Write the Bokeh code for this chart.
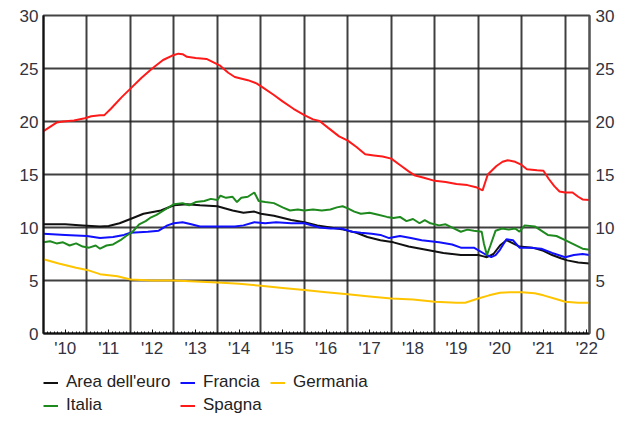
from bokeh.plotting import figure
from bokeh.layouts import column
from bokeh.models import Range1d, LinearAxis, FixedTicker, Legend, LegendItem
from bokeh.embed import file_html
from bokeh.resources import INLINE

# ---- data (decimal years, unemployment rate %) ----
ea_x = [2010.0, 2010.5, 2010.9, 2011.3, 2011.5, 2011.75, 2012.0, 2012.3, 2012.7, 2013.0, 2013.3, 2013.6,
        2014.0, 2014.35, 2014.6, 2014.85, 2015.0, 2015.3, 2015.7, 2016.0, 2016.3, 2016.6, 2016.9, 2017.2,
        2017.45, 2017.75, 2018.05, 2018.4, 2018.8, 2019.2, 2019.6, 2020.0, 2020.1, 2020.2, 2020.35, 2020.5,
        2020.65, 2020.8, 2020.95, 2021.25, 2021.5, 2021.7, 2021.9, 2022.05, 2022.3, 2022.56]
ea_y = [10.3, 10.3, 10.2, 10.1, 10.15, 10.4, 10.8, 11.3, 11.6, 12.1, 12.2, 12.1,
        12.0, 11.6, 11.4, 11.5, 11.3, 11.1, 10.7, 10.5, 10.2, 10.0, 9.8, 9.5,
        9.1, 8.8, 8.6, 8.2, 7.9, 7.6, 7.4, 7.4, 7.3, 7.2, 7.5, 8.3,
        8.8, 8.5, 8.2, 8.1, 7.8, 7.4, 7.1, 6.9, 6.7, 6.6]

fr_x = [2010.0, 2010.5, 2011.0, 2011.3, 2011.6, 2011.85, 2012.0, 2012.4, 2012.65, 2012.85, 2013.0, 2013.2,
        2013.4, 2013.6, 2014.0, 2014.4, 2014.6, 2014.85, 2015.1, 2015.35, 2015.7, 2016.0, 2016.35, 2016.6,
        2016.85, 2017.1, 2017.3, 2017.55, 2017.75, 2017.95, 2018.2, 2018.45, 2018.7, 2019.1, 2019.4, 2019.6,
        2019.9, 2020.15, 2020.3, 2020.4, 2020.5, 2020.65, 2020.8, 2020.95, 2021.2, 2021.45, 2021.7, 2022.0,
        2022.2, 2022.4, 2022.56]
fr_y = [9.4, 9.3, 9.2, 9.0, 9.1, 9.3, 9.5, 9.6, 9.7, 10.2, 10.4, 10.5,
        10.3, 10.1, 10.1, 10.1, 10.2, 10.5, 10.4, 10.5, 10.4, 10.4, 10.0, 9.9,
        9.9, 9.6, 9.5, 9.4, 9.3, 9.0, 9.2, 9.0, 8.8, 8.6, 8.4, 8.1,
        8.1, 7.5, 7.2, 7.4, 7.9, 8.9, 8.8, 8.1, 8.1, 8.0, 7.6, 7.2,
        7.4, 7.5, 7.4]

de_x = [2010.0, 2010.35, 2010.75, 2011.0, 2011.3, 2011.7, 2012.0, 2012.5, 2013.0, 2013.5, 2014.0, 2014.5,
        2015.0, 2015.5, 2016.0, 2016.5, 2017.0, 2017.5, 2018.0, 2018.5, 2019.0, 2019.5, 2019.7, 2020.0,
        2020.25, 2020.5, 2020.75, 2021.0, 2021.3, 2021.5, 2021.75, 2022.0, 2022.3, 2022.56]
de_y = [7.0, 6.6, 6.2, 6.0, 5.6, 5.4, 5.1, 5.0, 5.0, 4.9, 4.8, 4.7,
        4.5, 4.3, 4.1, 3.9, 3.7, 3.5, 3.3, 3.2, 3.0, 2.9, 2.9, 3.3,
        3.6, 3.85, 3.9, 3.9, 3.8, 3.6, 3.3, 3.0, 2.9, 2.9]

it_x = [2010.0, 2010.15, 2010.3, 2010.45, 2010.6, 2010.75, 2010.9, 2011.05, 2011.2, 2011.3, 2011.45, 2011.6,
        2011.77, 2011.9, 2012.05, 2012.2, 2012.35, 2012.45, 2012.6, 2012.8, 2013.0, 2013.2, 2013.35, 2013.5,
        2013.7, 2013.85, 2014.0, 2014.07, 2014.2, 2014.35, 2014.45, 2014.55, 2014.7, 2014.85, 2014.95, 2015.1,
        2015.3, 2015.5, 2015.67, 2015.85, 2016.0, 2016.2, 2016.4, 2016.6, 2016.75, 2016.88, 2017.0, 2017.15,
        2017.3, 2017.5, 2017.7, 2017.9, 2018.05, 2018.2, 2018.35, 2018.5, 2018.65, 2018.77, 2018.9, 2019.1,
        2019.25, 2019.45, 2019.6, 2019.75, 2019.9, 2020.08, 2020.13, 2020.2, 2020.28, 2020.4, 2020.55, 2020.7,
        2020.85, 2020.95, 2021.07, 2021.3, 2021.45, 2021.6, 2021.8, 2022.0, 2022.2, 2022.4, 2022.56]
it_y = [8.6, 8.7, 8.5, 8.6, 8.3, 8.5, 8.2, 8.1, 8.3, 8.0, 8.3, 8.4,
        8.8, 9.2, 9.6, 10.3, 10.6, 10.9, 11.2, 11.7, 12.2, 12.3, 12.1, 12.4,
        12.5, 12.7, 12.6, 13.0, 12.8, 12.9, 12.4, 12.8, 12.9, 13.3, 12.5, 12.4,
        12.3, 11.9, 11.6, 11.7, 11.6, 11.7, 11.6, 11.7, 11.9, 12.0, 11.8, 11.5,
        11.3, 11.4, 11.2, 11.0, 10.9, 11.0, 10.6, 10.8, 10.4, 10.7, 10.4, 10.2,
        10.3, 9.9, 9.6, 9.8, 9.7, 9.6, 8.5, 7.4, 8.3, 9.7, 9.9, 9.8,
        9.9, 9.6, 10.2, 10.1, 9.7, 9.3, 9.2, 8.8, 8.4, 8.0, 7.9]

es_x = [2010.0, 2010.15, 2010.3, 2010.45, 2010.7, 2010.95, 2011.1, 2011.3, 2011.4, 2011.55, 2011.8, 2012.0,
        2012.25, 2012.5, 2012.75, 2012.95, 2013.1, 2013.2, 2013.3, 2013.5, 2013.75, 2013.9, 2014.05, 2014.25,
        2014.4, 2014.7, 2014.9, 2015.05, 2015.3, 2015.5, 2015.75, 2016.0, 2016.2, 2016.35, 2016.55, 2016.8,
        2017.0, 2017.2, 2017.4, 2017.6, 2017.8, 2018.0, 2018.2, 2018.4, 2018.55, 2018.75, 2019.0, 2019.25,
        2019.5, 2019.75, 2019.95, 2020.1, 2020.22, 2020.32, 2020.42, 2020.56, 2020.68, 2020.85, 2021.0, 2021.12,
        2021.35, 2021.5, 2021.62, 2021.75, 2021.87, 2022.0, 2022.17, 2022.3, 2022.4, 2022.56]
es_y = [19.1, 19.5, 19.9, 20.0, 20.1, 20.3, 20.5, 20.6, 20.6, 21.2, 22.3, 23.1,
        24.1, 25.0, 25.8, 26.2, 26.4, 26.35, 26.1, 26.0, 25.9, 25.6, 25.3, 24.6,
        24.2, 23.9, 23.6, 23.2, 22.5, 21.9, 21.2, 20.6, 20.2, 20.05, 19.4, 18.6,
        18.2, 17.6, 16.9, 16.8, 16.7, 16.5, 15.9, 15.3, 14.9, 14.7, 14.4, 14.3,
        14.1, 14.0, 13.8, 13.5, 15.0, 15.4, 15.8, 16.2, 16.35, 16.2, 15.9, 15.5,
        15.4, 15.35, 14.6, 13.9, 13.4, 13.3, 13.3, 12.9, 12.65, 12.6]

year_ticks = [2010.5 + i for i in range(13)]
year_labels = ["'10", "'11", "'12", "'13", "'14", "'15", "'16", "'17", "'18", "'19", "'20", "'21", "'22"]
year_bounds = [2011 + i for i in range(12)]
y_ticks = [0, 5, 10, 15, 20, 25, 30]

names = ["Area dell'euro", "Francia", "Germania", "Italia", "Spagna"]
colors = ["#111111", "#1010ff", "#ffc400", "#1e8a1e", "#ff1a1a"]
series = [(ea_x, ea_y), (fr_x, fr_y), (de_x, de_y), (it_x, it_y), (es_x, es_y)]

FONT = "Liberation Sans"
TICK_COLOR = "#333340"

p = figure(width=617, height=360, output_backend="svg", toolbar_location=None,
           x_range=Range1d(2010.0, 2022.56), y_range=Range1d(0, 30),
           min_border_left=43, min_border_right=27, min_border_top=15, min_border_bottom=27)
p.background_fill_color = "white"
p.border_fill_color = "white"
p.outline_line_color = "#444444"
p.outline_line_width = 2

# axes
xa = p.xaxis[0]
xa.ticker = FixedTicker(ticks=year_ticks,
                        minor_ticks=[2010 + m / 12 for m in range(1, 151)])
xa.major_label_overrides = {t: l for t, l in zip(year_ticks, year_labels)}
xa.major_tick_in = 4
xa.major_tick_out = 0
xa.minor_tick_in = 2
xa.minor_tick_out = 0
xa.axis_line_width = 2
xa.axis_line_color = "#111111"
xa.major_tick_line_color = "#111111"
xa.minor_tick_line_color = "#111111"
xa.major_label_text_font = FONT
xa.major_label_text_font_size = "17px"
xa.major_label_text_color = TICK_COLOR
xa.major_label_standoff = 5

ya = p.yaxis[0]
ya.ticker = FixedTicker(ticks=y_ticks)
ya.major_tick_in = 0
ya.major_tick_out = 0
ya.minor_tick_line_color = None
ya.axis_line_width = 2
ya.axis_line_color = "#111111"
ya.major_label_text_font = FONT
ya.major_label_text_font_size = "17px"
ya.major_label_text_color = TICK_COLOR
ya.major_label_standoff = 5

ra = LinearAxis(ticker=FixedTicker(ticks=y_ticks))
ra.major_tick_in = 0
ra.major_tick_out = 0
ra.minor_tick_line_color = None
ra.axis_line_width = 2
ra.axis_line_color = "#555555"
ra.major_label_text_font = FONT
ra.major_label_text_font_size = "17px"
ra.major_label_text_color = TICK_COLOR
ra.major_label_standoff = 6
p.add_layout(ra, "right")

# grids
p.xgrid.ticker = FixedTicker(ticks=year_bounds)
p.xgrid.grid_line_color = "#1e1e1e"
p.xgrid.grid_line_width = 2
p.xgrid.grid_line_alpha = 0.85
p.ygrid.grid_line_color = "#1e1e1e"
p.ygrid.grid_line_width = 2
p.ygrid.grid_line_alpha = 0.85

# series in the chart
for i in range(5):
    xs, ys = series[i]
    p.line(xs, ys, line_color=colors[i], line_width=2)

# legend strip: same series, plotted outside the visible range, only their legend shows
lf = figure(width=617, height=61, output_backend="svg", toolbar_location=None,
            x_range=Range1d(0, 1), y_range=Range1d(0, 1),
            x_axis_type=None, y_axis_type=None, min_border=0)
lf.outline_line_color = None
lf.grid.visible = False
lr = []
for i in range(5):
    xs, ys = series[i]
    lr.append(lf.line(xs, ys, line_color=colors[i], line_width=2))


def make_legend(idx, loc):
    lg = Legend(items=[LegendItem(label=names[i], renderers=[lr[i]]) for i in idx],
                orientation="vertical", location=loc)
    lg.label_text_font = FONT
    lg.label_text_font_size = "17px"
    lg.label_text_color = "#222222"
    lg.glyph_width = 15
    lg.glyph_height = 17
    lg.label_height = 17
    lg.label_standoff = 8
    lg.spacing = 3
    lg.padding = 0
    lg.margin = 0
    lg.border_line_color = None
    lg.background_fill_alpha = 0
    return lg


lf.add_layout(make_legend([0, 3], (0, 6)))
lf.add_layout(make_legend([1, 4], (137, 6)))
lf.add_layout(make_legend([2], (227, 29)))

open("out.html", "w").write(file_html(column(p, lf), INLINE))
